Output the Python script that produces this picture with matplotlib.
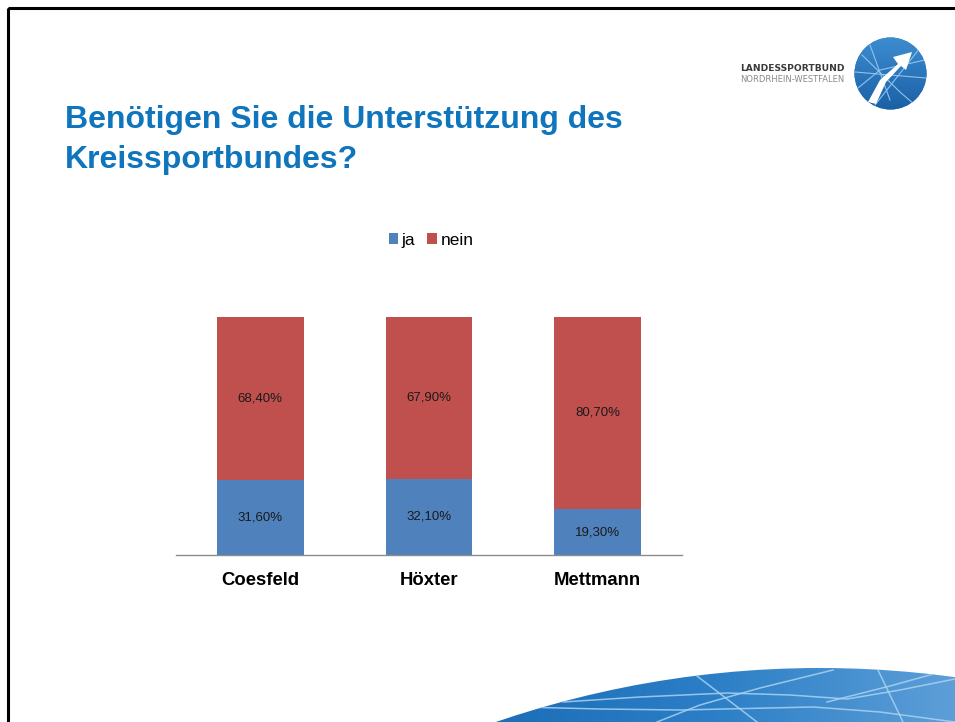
import numpy as np
import matplotlib
matplotlib.use("Agg")
import matplotlib.pyplot as plt
from matplotlib.patches import Circle, Rectangle, Polygon
from matplotlib.lines import Line2D
from matplotlib.colors import LinearSegmentedColormap

# ---- data ----
categories = ["Coesfeld", "Höxter", "Mettmann"]
ja = [0.316, 0.321, 0.193]
nein = [0.684, 0.679, 0.807]
series_names = ["ja", "nein"]
title_lines = ["Benötigen Sie die Unterstützung des", "Kreissportbundes?"]

BLUE = "#4F81BD"
RED = "#C0504D"
TITLE_C = "#0F75BC"

plt.rcParams["font.family"] = ["Liberation Sans", "DejaVu Sans"]

W, H = 955, 722
fig = plt.figure(figsize=(W / 100, H / 100), dpi=100)

# ---- decoration layer in pixel coordinates ----
deco = fig.add_axes([0, 0, 1, 1], zorder=0)
deco.set_xlim(0, W)
deco.set_ylim(H, 0)
deco.axis("off")

# slide border
deco.add_patch(Rectangle((8, 8), 1200, 1200, fill=False, edgecolor="black", lw=2.2))

# bottom swoosh (top of a large globe)
swoosh = Circle((820, 1668), 1000, transform=deco.transData, facecolor="none", edgecolor="none")
deco.add_patch(swoosh)
grad = np.linspace(0, 1, 256).reshape(1, -1)
cm = LinearSegmentedColormap.from_list("sw", ["#1A6CB5", "#2C7FC6", "#5E9FD8"])
im = deco.imshow(grad, extent=(470, 960, 722, 660), cmap=cm, aspect="auto", zorder=1)
im.set_clip_path(swoosh)
sw_lines = [
    [(693, 673), (757, 722)],
    [(657, 722), (700, 705), (760, 688), (833, 670)],
    [(520, 707), (600, 709), (680, 710), (813, 707), (880, 712), (955, 722)],
    [(563, 702), (640, 697), (727, 693), (790, 695), (847, 699), (900, 690), (955, 679)],
    [(877, 668), (903, 722)],
    [(827, 702), (890, 686), (955, 668)],
]
for pts in sw_lines:
    xs, ys = zip(*pts)
    ln = Line2D(xs, ys, color="#A9D3F2", lw=1.1, alpha=0.85, zorder=2)
    deco.add_line(ln)
    ln.set_clip_path(swoosh)

# logo globe
globe = Circle((890.5, 73.5), 36, facecolor="#1F6DB3", edgecolor="none", zorder=1)
deco.add_patch(globe)
gimg = deco.imshow(np.linspace(0, 1, 256).reshape(-1, 1), extent=(854, 927, 110, 37),
                   cmap=LinearSegmentedColormap.from_list("g", ["#3E8DD0", "#1A5FA6"]),
                   aspect="auto", zorder=1)
gimg.set_clip_path(globe)
for pts in [[(858, 88), (880, 70), (925, 60)], [(862, 55), (900, 92), (915, 105)],
            [(870, 45), (890, 100)], [(855, 72), (926, 78)], [(875, 105), (920, 48)]]:
    xs, ys = zip(*pts)
    ln = Line2D(xs, ys, color="#8EC3EC", lw=0.8, zorder=2)
    deco.add_line(ln)
    ln.set_clip_path(globe)
arrow = Polygon([(868, 102), (880, 80), (898, 64), (893, 57), (912, 52), (906, 70),
                 (901, 66), (886, 82), (876, 104)], closed=True,
                facecolor="white", edgecolor="none", zorder=3)
deco.add_patch(arrow)
arrow.set_clip_path(globe)

deco.text(740, 68.5, "LANDESSPORTBUND", fontsize=6.6, fontweight="bold",
          family="DejaVu Sans", color="#3A3A3A", ha="left", va="center", zorder=3)
deco.text(740, 79.5, "NORDRHEIN-WESTFALEN", fontsize=6.0,
          family="DejaVu Sans", color="#8A8A8A", ha="left", va="center", zorder=3)

# title
deco.text(65, 128, title_lines[0], fontsize=23, fontweight="bold", color=TITLE_C,
          ha="left", va="baseline", zorder=3)
deco.text(65, 168, title_lines[1], fontsize=23, fontweight="bold", color=TITLE_C,
          ha="left", va="baseline", zorder=3)

# ---- chart ----
left, right = 176 / W, 682 / W
bottom, top = (H - 555) / H, (H - 316.7) / H
ax = fig.add_axes([left, bottom, right - left, top - bottom], zorder=2)
ax.patch.set_alpha(0)
x = np.arange(len(categories))
bw = 0.513
b1 = ax.bar(x, ja, bw, color=BLUE, label=series_names[0], zorder=2)
b2 = ax.bar(x, nein, bw, bottom=ja, color=RED, label=series_names[1], zorder=2)

for xi, j, n in zip(x, ja, nein):
    ax.text(xi, j / 2, f"{j * 100:.2f}%".replace(".", ","), ha="center", va="center",
            fontsize=9.5, color="#1A1A1A", zorder=3)
    ax.text(xi, j + n / 2, f"{n * 100:.2f}%".replace(".", ","), ha="center", va="center",
            fontsize=9.5, color="#1A1A1A", zorder=3)

ax.set_xlim(-0.5, 2.5)
ax.set_ylim(0, 1)
ax.set_yticks([])
ax.set_xticks(x)
ax.set_xticklabels(categories, fontsize=13.3, fontweight="bold", color="black")
ax.tick_params(axis="x", length=0, pad=12)
for s in ["top", "right", "left"]:
    ax.spines[s].set_visible(False)
ax.spines["bottom"].set_color("#8C8C8C")
ax.spines["bottom"].set_linewidth(1.0)

fig.legend(handles=[b1, b2], labels=series_names, loc="center",
           bbox_to_anchor=(431 / W, (H - 240) / H), ncol=2, frameon=False,
           fontsize=12.5, handlelength=0.55, handleheight=0.55, handletextpad=0.2,
           columnspacing=0.7, borderpad=0)

fig.savefig("out.png", dpi=100)
